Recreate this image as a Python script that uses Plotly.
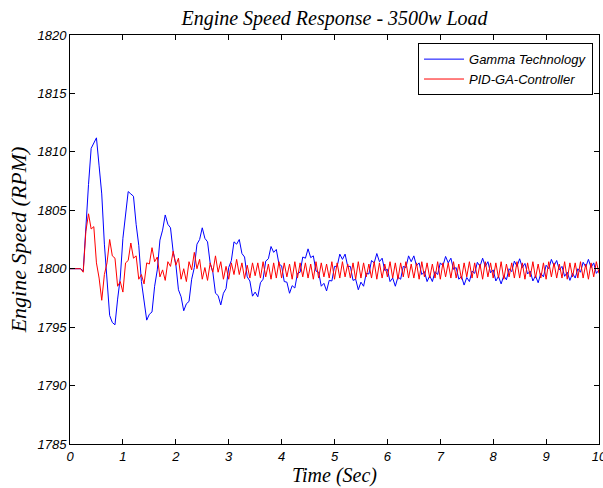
import plotly.graph_objects as go

# Time samples (s), step 0.05 s
time_s = [round(i * 0.05, 2) for i in range(201)]

gamma_technology = [
    1800.0, 1800.0, 1800.0, 1800.0, 1800.0, 1799.8, 1803.8, 1807.2, 1810.3, 1810.8,
    1811.2, 1808.8, 1806.4, 1802.1, 1799.2, 1796.0, 1795.4, 1795.2, 1797.4, 1799.2,
    1802.6, 1804.4, 1806.6, 1806.4, 1806.2, 1803.8, 1802.0, 1798.9, 1797.4, 1795.6,
    1796.1, 1796.3, 1798.5, 1799.9, 1802.45, 1803.3, 1804.6, 1803.8, 1803.5, 1801.45,
    1800.4, 1798.2, 1797.6, 1796.4, 1797.0, 1797.2, 1799.1, 1800.1, 1802.1, 1802.5,
    1803.5, 1802.6, 1802.3, 1800.45, 1799.7, 1797.9, 1797.7, 1796.9, 1797.9, 1798.3,
    1800.1, 1800.7, 1802.3, 1802.1, 1802.5, 1801.3, 1801.0, 1799.3, 1798.95, 1797.65,
    1798.0, 1797.6, 1798.8, 1799.1, 1800.65, 1800.85, 1801.9, 1801.4, 1801.65, 1800.4,
    1800.25, 1798.9, 1798.85, 1797.9, 1798.55, 1798.35, 1799.6, 1799.7, 1801.0, 1800.9,
    1801.7, 1800.95, 1801.1, 1799.8, 1799.7, 1798.5, 1798.75, 1798.1, 1799.0, 1798.95,
    1800.2, 1800.2, 1801.25, 1800.8, 1801.25, 1800.2, 1800.2, 1799.0, 1799.1, 1798.2,
    1798.85, 1798.5, 1799.6, 1799.55, 1800.7, 1800.5, 1801.3, 1800.6, 1800.9, 1799.85,
    1799.95, 1798.9, 1799.2, 1798.5, 1799.3, 1799.1, 1800.2, 1800.1, 1801.1, 1800.6,
    1801.1, 1800.25, 1800.5, 1799.5, 1799.75, 1798.9, 1799.4, 1798.9, 1799.75, 1799.5,
    1800.5, 1800.25, 1801.05, 1800.5, 1800.9, 1799.95, 1800.1, 1799.1, 1799.35, 1798.6,
    1799.25, 1798.9, 1799.8, 1799.6, 1800.55, 1800.2, 1800.9, 1800.2, 1800.6, 1799.65,
    1799.9, 1798.95, 1799.35, 1798.7, 1799.4, 1799.05, 1800.0, 1799.75, 1800.65, 1800.2,
    1800.85, 1800.1, 1800.45, 1799.55, 1799.8, 1798.95, 1799.4, 1798.8, 1799.6, 1799.3,
    1800.3, 1800.0, 1800.8, 1800.25, 1800.7, 1799.9, 1800.2, 1799.35, 1799.7, 1799.0,
    1799.6, 1799.2, 1800.0, 1799.7, 1800.55, 1800.15, 1800.8, 1800.1, 1800.5, 1799.6,
    1799.9,
]

pid_ga_controller = [
    1800.0, 1800.0, 1800.0, 1800.0, 1800.0, 1799.7, 1803.2, 1804.7, 1803.4, 1803.6,
    1800.5, 1799.2, 1797.3, 1799.5, 1800.5, 1802.5, 1801.1, 1800.9, 1798.5, 1798.9,
    1798.0, 1800.5, 1800.7, 1802.2, 1800.9, 1801.1, 1799.1, 1799.5, 1798.7, 1800.5,
    1800.4, 1801.8, 1800.6, 1801.0, 1799.3, 1799.9, 1799.0, 1800.6, 1800.2, 1801.5,
    1800.3, 1800.9, 1799.1, 1800.0, 1798.9, 1800.6, 1799.9, 1801.4, 1800.0, 1800.8,
    1799.1, 1800.1, 1799.0, 1800.5, 1799.7, 1801.1, 1799.7, 1800.6, 1799.1, 1800.2,
    1799.1, 1800.5, 1799.5, 1800.8, 1799.5, 1800.5, 1799.15, 1800.3, 1799.2, 1800.5,
    1799.4, 1800.5, 1799.2, 1800.6, 1799.3, 1800.4, 1799.1, 1800.5, 1799.2, 1800.6,
    1799.2, 1800.5, 1799.3, 1800.4, 1799.1, 1800.6, 1799.2, 1800.5, 1799.3, 1800.5,
    1799.2, 1800.4, 1799.1, 1800.6, 1799.2, 1800.5, 1799.3, 1800.4, 1799.2, 1800.6,
    1799.1, 1800.5, 1799.2, 1800.6, 1799.3, 1800.4, 1799.2, 1800.5, 1799.1, 1800.6,
    1799.2, 1800.5, 1799.3, 1800.4, 1799.2, 1800.6, 1799.1, 1800.5, 1799.2, 1800.4,
    1799.3, 1800.6, 1799.2, 1800.5, 1799.1, 1800.5, 1799.3, 1800.6, 1799.2, 1800.4,
    1799.2, 1800.5, 1799.1, 1800.6, 1799.3, 1800.5, 1799.2, 1800.4, 1799.2, 1800.6,
    1799.1, 1800.5, 1799.3, 1800.5, 1799.2, 1800.6, 1799.2, 1800.4, 1799.1, 1800.5,
    1799.3, 1800.6, 1799.2, 1800.5, 1799.2, 1800.4, 1799.1, 1800.6, 1799.3, 1800.5,
    1799.2, 1800.5, 1799.2, 1800.6, 1799.1, 1800.4, 1799.3, 1800.5, 1799.2, 1800.6,
    1799.2, 1800.5, 1799.1, 1800.5, 1799.3, 1800.6, 1799.2, 1800.4, 1799.2, 1800.5,
    1799.1, 1800.6, 1799.3, 1800.5, 1799.2, 1800.4, 1799.2, 1800.6, 1799.1, 1800.5,
    1799.3, 1800.5, 1799.2, 1800.6, 1799.2, 1800.4, 1799.1, 1800.5, 1799.3, 1800.6,
    1799.6,
]

x_ticks = [0, 1, 2, 3, 4, 5, 6, 7, 8, 9, 10]
y_ticks = [1785, 1790, 1795, 1800, 1805, 1810, 1815, 1820]

serif = "Liberation Serif, Times New Roman, serif"
sans = "Liberation Sans, Arial, sans-serif"

fig = go.Figure()
fig.add_trace(go.Scatter(x=time_s, y=gamma_technology, mode="lines",
                         name="Gamma Technology",
                         line=dict(color="rgb(0,0,255)", width=1)))
fig.add_trace(go.Scatter(x=time_s, y=pid_ga_controller, mode="lines",
                         name="PID-GA-Controller",
                         line=dict(color="rgb(255,0,0)", width=1)))

axis_common = dict(
    showline=True, linecolor="black", linewidth=1, mirror="allticks",
    ticks="inside", ticklen=5, tickcolor="black", showgrid=False, zeroline=False,
    tickfont=dict(family=sans, size=13, color="black", style="italic"),
    ticklabeloverflow="allow", automargin=False,
)

fig.update_layout(
    width=603, height=488,
    margin=dict(l=70, r=4, t=35, b=44),
    paper_bgcolor="white", plot_bgcolor="white",
    title=dict(text="Engine Speed Response - 3500w Load",
               font=dict(family=serif, size=20, color="black", style="italic"),
               x=(70 + 599) / 2 / 603, xanchor="center", y=1 - 18 / 488, yanchor="middle"),
    xaxis=dict(range=[0, 10], tickvals=x_ticks, ticktext=[str(v) for v in x_ticks],
               title=dict(text="Time (Sec)", standoff=2,
                          font=dict(family=serif, size=20, color="black", style="italic")),
               **axis_common),
    yaxis=dict(range=[1785, 1820], tickvals=y_ticks, ticktext=[str(v) for v in y_ticks],
               title=dict(text="Engine Speed (RPM)", standoff=4,
                          font=dict(family=serif, size=22, color="black", style="italic")),
               **axis_common),
    legend=dict(x=0.9887, y=0.980, xanchor="right", yanchor="top",
                bgcolor="white", bordercolor="black", borderwidth=1,
                font=dict(family=sans, size=13, color="black", style="italic"),
                tracegroupgap=0, itemwidth=40),
    showlegend=True,
)

fig.write_html("out.html",
               config={"displayModeBar": False},
               post_script="document.body.style.margin='0';document.body.style.padding='0';"
                           "document.body.style.overflow='hidden';")
